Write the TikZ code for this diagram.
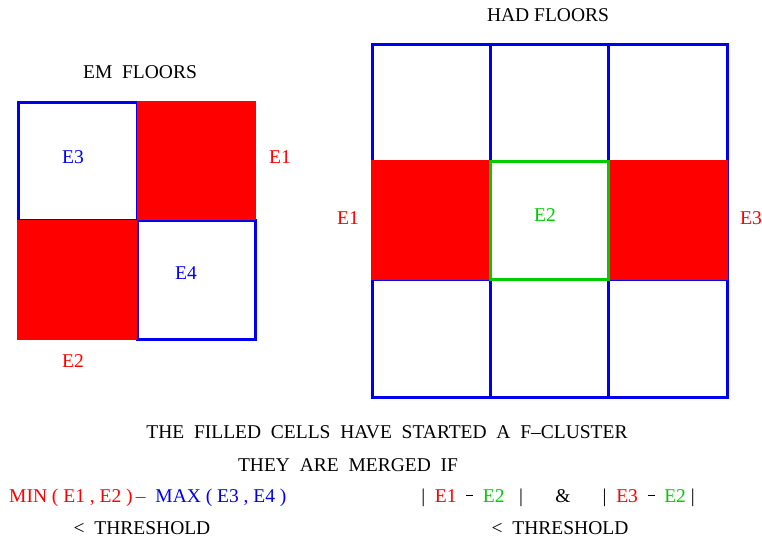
\documentclass[tikz,border=0pt]{standalone}
\usepackage{fontspec}
\setmainfont{Liberation Serif}
\definecolor{cred}{RGB}{255,0,0}
\definecolor{cblue}{RGB}{0,0,240}
\definecolor{cgreen}{RGB}{0,204,0}
\newcommand{\rdash}{\raisebox{0.75ex}{\rule{0.35em}{0.06em}}}
\begin{document}
\begin{tikzpicture}[x=1pt,y=-1pt,
  txt/.style={font=\fontsize{19.5}{22}\selectfont, inner sep=0pt},
  blueline/.style={draw=cblue, line width=3pt},
  greenline/.style={draw=cgreen, line width=3pt},
  redfill/.style={fill=cred}]
\useasboundingbox (0,0) rectangle (762,541);
% ---------- EM floors
\draw[blueline] (18,102) rectangle (137,220);
\draw[blueline] (137,220) rectangle (255,339);
\fill[redfill] (137,101) rectangle (256,220);
\fill[redfill] (17,220) rectangle (137,340);
\node[txt] (emt) at (140,72) {EM\ \ FLOORS};
\node[txt, text=cblue] (e3l) at (73,157) {E3};
\node[txt, text=cred] (e1l) at (280,157) {E1};
\node[txt, text=cblue] (e4l) at (186,273) {E4};
\node[txt, text=cred] (e2l) at (73,361) {E2};
% ---------- HAD floors
\draw[blueline] (372,44) rectangle (727,397);
\draw[blueline] (490,44) -- (490,397);
\draw[blueline] (608,44) -- (608,397);
\draw[blueline] (372,161) -- (727,161);
\draw[blueline] (372,279) -- (727,279);
\fill[redfill] (371,160) rectangle (490,280);
\fill[redfill] (608,160) rectangle (728,280);
\fill[white] (491.5,162.5) rectangle (606.5,277.5);
\draw[greenline] (490,161) rectangle (608,279);
\node[txt] (hadt) at (548,15) {HAD FLOORS};
\node[txt, text=cred] (he1) at (348,218) {E1};
\node[txt, text=cgreen] (he2) at (545,215) {E2};
\node[txt, text=cred] (he3) at (751,218) {E3};
% ---------- text
\node[txt] (l1) at (387,432) {THE\ \ FILLED\ \ CELLS\ \ HAVE\ \ STARTED\ \ A\ \ F--CLUSTER};
\node[txt] (l2) at (348,465) {THEY\ \ ARE\ \ MERGED\ \ IF};
\node[txt, anchor=west] (l3) at (9,498) {\textcolor{cred}{MIN ( E1 , E2 )}\,\textcolor{cred}{--}\ \ \textcolor{cblue}{MAX ( E3 , E4 )}};
\node[txt] (l4) at (142,528) {<\ \ THRESHOLD};
\node[txt] (l5) at (558,498) {|\ \ \textcolor{cred}{E1}\ \ \rdash\ \ \textcolor{cgreen}{E2}\ \ \ |\hspace{1.65em}\&\hspace{1.65em}|\ \ \textcolor{cred}{E3}\ \ \rdash\ \ \textcolor{cgreen}{E2}\ |};
\node[txt] (l6) at (560,528) {<\ \ THRESHOLD};
\end{tikzpicture}
\end{document}
